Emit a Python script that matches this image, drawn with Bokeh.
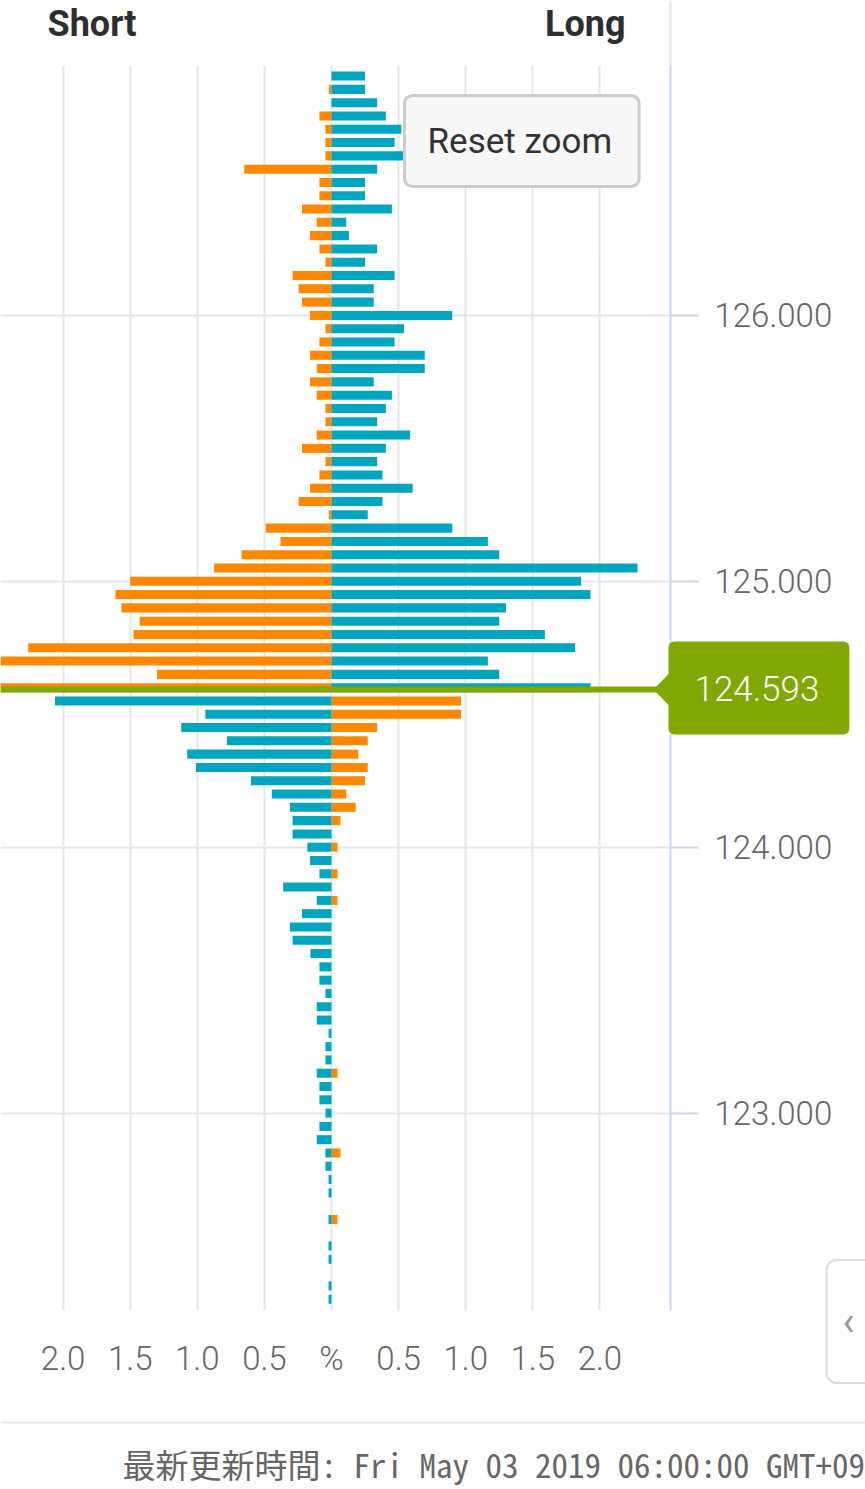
from bokeh.plotting import figure
from bokeh.models import (FixedTicker, PrintfTickFormatter, CustomJSTickFormatter,
                          Label, PolyAnnotation, ColumnDataSource)
from bokeh.embed import file_html
from bokeh.resources import INLINE

# ---------------- data ----------------
prices = [126.90, 126.85, 126.80, 126.75, 126.70, 126.65, 126.60, 126.55, 126.50, 126.45,
          126.40, 126.35, 126.30, 126.25, 126.20, 126.15, 126.10, 126.05, 126.00, 125.95,
          125.90, 125.85, 125.80, 125.75, 125.70, 125.65, 125.60, 125.55, 125.50, 125.45,
          125.40, 125.35, 125.30, 125.25, 125.20, 125.15, 125.10, 125.05, 125.00, 124.95,
          124.90, 124.85, 124.80, 124.75, 124.70, 124.65, 124.60, 124.55, 124.50, 124.45,
          124.40, 124.35, 124.30, 124.25, 124.20, 124.15, 124.10, 124.05, 124.00, 123.95,
          123.90, 123.85, 123.80, 123.75, 123.70, 123.65, 123.60, 123.55, 123.50, 123.45,
          123.40, 123.35, 123.30, 123.25, 123.20, 123.15, 123.10, 123.05, 123.00, 122.95,
          122.90, 122.85, 122.80, 122.75, 122.70, 122.65, 122.60, 122.55, 122.50, 122.45,
          122.40, 122.35, 122.30]

orange_pct = [0.00, 0.02, 0.00, 0.09, 0.045, 0.045, 0.045, 0.65, 0.09, 0.09,
              0.22, 0.11, 0.16, 0.09, 0.045, 0.29, 0.245, 0.22, 0.16, 0.045,
              0.09, 0.16, 0.11, 0.16, 0.11, 0.045, 0.045, 0.11, 0.22, 0.045,
              0.09, 0.16, 0.245, 0.02, 0.49, 0.38, 0.67, 0.875, 1.50, 1.61,
              1.565, 1.43, 1.475, 2.26, 2.55, 1.30, 2.60, 0.965, 0.965, 0.34,
              0.27, 0.20, 0.27, 0.25, 0.11, 0.18, 0.067, 0.00, 0.045, 0.00,
              0.045, 0.00, 0.045, 0.00, 0.00, 0.00, 0.00, 0.00, 0.00, 0.00,
              0.00, 0.00, 0.00, 0.00, 0.00, 0.045, 0.00, 0.00, 0.00, 0.00,
              0.00, 0.067, 0.00, 0.00, 0.00, 0.00, 0.045, 0.00, 0.00, 0.00,
              0.00, 0.00, 0.00]

teal_pct = [0.25, 0.25, 0.34, 0.405, 0.52, 0.47, 0.54, 0.34, 0.25, 0.25,
            0.45, 0.11, 0.13, 0.34, 0.25, 0.47, 0.315, 0.315, 0.90, 0.54,
            0.47, 0.695, 0.695, 0.315, 0.45, 0.405, 0.34, 0.585, 0.405, 0.34,
            0.38, 0.605, 0.38, 0.27, 0.90, 1.165, 1.25, 2.28, 1.86, 1.93,
            1.30, 1.25, 1.59, 1.815, 1.165, 1.25, 1.93, 2.06, 0.94, 1.12,
            0.78, 1.075, 1.01, 0.60, 0.445, 0.31, 0.29, 0.29, 0.18, 0.16,
            0.09, 0.36, 0.11, 0.22, 0.31, 0.29, 0.157, 0.09, 0.09, 0.045,
            0.11, 0.11, 0.022, 0.045, 0.045, 0.11, 0.09, 0.09, 0.045, 0.09,
            0.11, 0.045, 0.045, 0.022, 0.022, 0.00, 0.022, 0.00, 0.022, 0.022,
            0.00, 0.022, 0.022]

current_price = 124.593
x_ticks = [-2.0, -1.5, -1.0, -0.5, 0.0, 0.5, 1.0, 1.5, 2.0]
y_ticks = [123.0, 124.0, 125.0, 126.0]
title_short = "Short"
title_long = "Long"
button_text = "Reset zoom"
updated_text = "最新更新時間: Fri May 03 2019 06:00:00 GMT+09"

ORANGE = "#ff8800"
TEAL = "#00a6c0"
GREEN = "#80a800"
GRID = "#e6e6e6"
AXIS = "#ccd6eb"
LABEL = "#666666"

W, H = 865, 1489

# ---------------- page px -> data helpers ----------------
PX_X = 134.2      # px per 1 %
PX_Y = 265.9      # px per 1.0 price
ZERO_SX = 331.0   # page x of 0 %
def dx(sx):
    return (sx - ZERO_SX) / PX_X
def dy(sy):
    return 124.5 + (713.75 - sy) / PX_Y

X_LEFT, X_RIGHT = dx(0), dx(670)      # plot area (%)
Y_BOT, Y_TOP = dy(1310), dy(65)       # plot area (price)

# ---------------- sources ----------------
o_left, o_right, t_left, t_right = [], [], [], []
for pr, o, t in zip(prices, orange_pct, teal_pct):
    if pr > current_price:
        o_left.append(-o); o_right.append(0.0)
        t_left.append(0.0); t_right.append(t)
    else:
        o_left.append(0.0); o_right.append(o)
        t_left.append(-t); t_right.append(0.0)

src_o = ColumnDataSource(dict(y=prices, left=o_left, right=o_right))
src_t = ColumnDataSource(dict(y=prices, left=t_left, right=t_right))

p = figure(width=W, height=H, output_backend="svg", toolbar_location=None,
           x_range=(dx(0), dx(W)), y_range=(dy(H), dy(0)),
           x_axis_location="below", y_axis_location="right",
           min_border=0, min_border_left=0, min_border_right=0,
           min_border_top=0, min_border_bottom=0)
p.outline_line_color = None
p.background_fill_color = "white"
p.border_fill_color = "white"

# grids
p.xgrid.grid_line_color = GRID
p.xgrid.grid_line_width = 2
p.xgrid.cross_bounds = (Y_BOT, Y_TOP)
p.ygrid.grid_line_color = GRID
p.ygrid.grid_line_width = 2
p.ygrid.cross_bounds = (X_LEFT, X_RIGHT)

p.hbar(y="y", left="left", right="right", height=0.034, source=src_o,
       fill_color=ORANGE, line_color=None)
p.hbar(y="y", left="left", right="right", height=0.034, source=src_t,
       fill_color=TEAL, line_color=None)

# x axis (fixed under plot area)
p.xaxis.fixed_location = Y_BOT
p.xaxis.bounds = (X_LEFT, X_RIGHT)
p.xaxis.ticker = FixedTicker(ticks=x_ticks)
p.xaxis.formatter = CustomJSTickFormatter(
    code="return Math.abs(tick) < 1e-9 ? '%' : Math.abs(tick).toFixed(1);")
p.xaxis.axis_line_color = None
p.xaxis.major_tick_line_color = None
p.xaxis.minor_tick_line_color = None
p.xaxis.major_label_standoff = 22
p.xaxis.major_label_text_font = "Roboto Light"
p.xaxis.major_label_text_font_size = "33px"
p.xaxis.major_label_text_color = LABEL

# y axis (fixed at right edge of plot area)
p.yaxis.fixed_location = X_RIGHT
p.yaxis.bounds = (Y_BOT, Y_TOP)
p.yaxis.ticker = FixedTicker(ticks=y_ticks)
p.yaxis.formatter = PrintfTickFormatter(format="%.3f")
p.yaxis.axis_line_color = AXIS
p.yaxis.axis_line_width = 2
p.yaxis.major_tick_line_color = AXIS
p.yaxis.major_tick_line_width = 2
p.yaxis.major_tick_out = 28
p.yaxis.major_tick_in = 0
p.yaxis.minor_tick_line_color = None
p.yaxis.major_label_standoff = 16
p.yaxis.major_label_text_font = "Roboto Light"
p.yaxis.major_label_text_font_size = "33px"
p.yaxis.major_label_text_color = LABEL

# current price line + tag
p.segment(x0=[X_LEFT], y0=[current_price], x1=[X_RIGHT], y1=[current_price],
          line_color=GREEN, line_width=6)
half = 18.5 / PX_Y
p.add_layout(PolyAnnotation(xs=[dx(653), dx(671), dx(671)],
                            ys=[current_price, current_price + half, current_price - half],
                            fill_color=GREEN, fill_alpha=1.0, line_color=None,
                            level="overlay"))
p.add_layout(Label(x=dx(668), y=current_price + 1.5 / PX_Y, text=f"{current_price:.3f}",
                   text_font="Roboto Light", text_font_size="35px",
                   text_color="white", text_align="left", text_baseline="middle",
                   background_fill_color=GREEN, border_line_color=None,
                   border_radius=6,
                   padding=dict(left=26, right=30, top=34, bottom=34),
                   level="overlay"))

# titles
p.add_layout(Label(x=dx(47), y=dy(23), text=title_short,
                   text_font="Roboto", text_font_style="bold",
                   text_font_size="36px", text_color="#2e2e2e",
                   text_align="left", text_baseline="middle"))
p.add_layout(Label(x=dx(625), y=dy(23), text=title_long,
                   text_font="Roboto", text_font_style="bold",
                   text_font_size="36px", text_color="#2e2e2e",
                   text_align="right", text_baseline="middle"))

# separator at top right
p.add_layout(PolyAnnotation(xs=[dx(669), dx(671), dx(671), dx(669)],
                            ys=[dy(0), dy(0), Y_TOP, Y_TOP],
                            fill_color=GRID, fill_alpha=1.0, line_color=None))

# reset zoom button
p.add_layout(Label(x=dx(404), y=dy(140.5), text=button_text,
                   text_font="Roboto", text_font_size="35px", text_color="#333333",
                   text_align="left", text_baseline="middle",
                   background_fill_color="#f7f7f7", border_line_color="#cccccc",
                   border_line_width=3, border_radius=8,
                   padding=dict(left=23, right=27, top=25, bottom=25),
                   level="overlay"))

# bottom separator line
p.add_layout(PolyAnnotation(xs=[dx(0), dx(W), dx(W), dx(0)],
                            ys=[dy(1421), dy(1421), dy(1423), dy(1423)],
                            fill_color=GRID, fill_alpha=1.0, line_color=None))

# right side navigation box
p.add_layout(Label(x=dx(826), y=dy(1321), text="‹",
                   text_font="Roboto", text_font_size="40px", text_color="#999999",
                   text_align="left", text_baseline="middle",
                   background_fill_color="white", border_line_color="#dddddd",
                   border_line_width=2, border_radius=10,
                   padding=dict(left=16, right=30, top=38, bottom=38)))

# update time
p.add_layout(Label(x=dx(122), y=dy(1463), text=updated_text,
                   text_font="Noto Sans Mono CJK JP", text_font_size="33px",
                   text_color="#666666", text_align="left", text_baseline="middle"))

open("out.html", "w").write(file_html(p, INLINE))
